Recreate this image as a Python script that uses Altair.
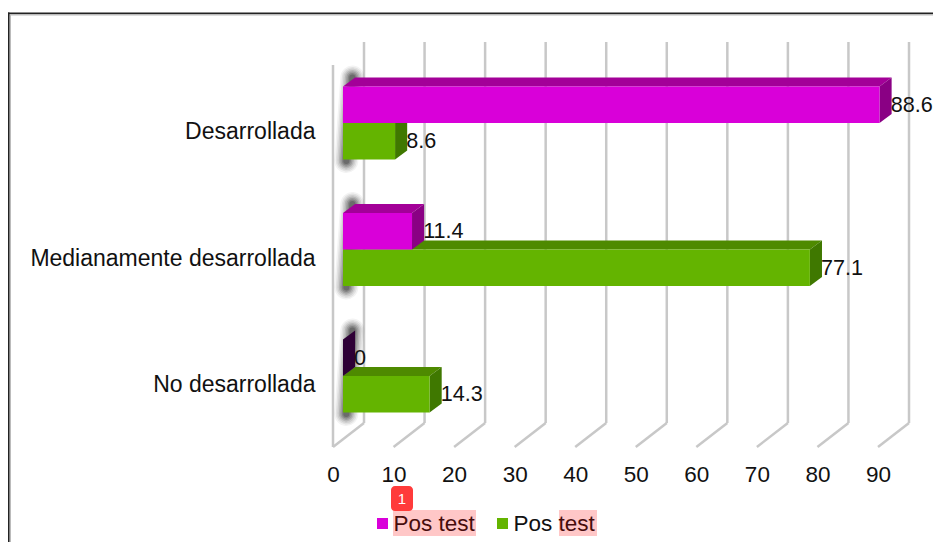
import json
import altair as alt
import pandas as pd

categories = ["Desarrollada", "Medianamente desarrollada", "No desarrollada"]
series_a = [88.6, 11.4, 0]
series_b = [8.6, 77.1, 14.3]
legend_labels = ["Pos test", "Pos test"]
ticks = [0, 10, 20, 30, 40, 50, 60, 70, 80, 90]

FONT = "Liberation Sans"
FS = 22.5
W, H = 925, 534
X_SCALE = alt.Scale(domain=[0, 90], range=[325, 870], nice=False, zero=False)
Y_SCALE = alt.Scale(domain=[0, 2], range=[115, 368], nice=False, zero=False)

INSET = 1.65      # bars start part-way into the depth of the floor
DEPTH_X = 2.0     # bar depth, value units
DEPTH_Y = 0.0711  # bar depth, row units
BAR_H = 0.2885    # bar height, row units
WALL_X = 5.12     # wall depth, value units
TOP_BACK, BOT_BACK, TOP_FRONT, BOT_FRONT = -0.640, 2.372, -0.4585, 2.561

COL_A = dict(front="#d900d9", top="#a30098", side="#8a0084", zero="#2e0036")
COL_B = dict(front="#64b400", top="#4e8a00", side="#3f7800", zero="#3f7800")

x_axis = alt.Axis(values=ticks, grid=False, domain=False, ticks=False, labelFont=FONT,
                  labelFontSize=FS, labelColor="#111", labelPadding=0, labelBaseline="middle",
                  offset=-(H - 466.5), format="d", labelFlush=False, labelOverlap=False)
names = json.dumps(categories)
y_axis = alt.Axis(values=[0, 1, 2], grid=False, domain=False, ticks=False, labelFont=FONT,
                  labelFontSize=23, labelColor="#111", labelPadding=0, labelOffset=8.5,
                  labelLimit=400, offset=-307, labelExpr=f"{names}[datum.value]",
                  labelOverlap=False)


def X(f):
    return alt.X(f, type="quantitative", scale=X_SCALE, axis=x_axis, title=None)


def Y(f):
    return alt.Y(f, type="quantitative", scale=Y_SCALE, axis=y_axis, title=None, stack=False)


# Walls and floor lines
grid_rows = []
for t in ticks:
    grid_rows.append(dict(x=t + WALL_X, x2=t + WALL_X, y=TOP_BACK, y2=BOT_BACK))
    grid_rows.append(dict(x=t, x2=t + WALL_X, y=BOT_FRONT, y2=BOT_BACK))
grid_rows.append(dict(x=0, x2=0, y=TOP_FRONT, y2=BOT_FRONT))
grid = alt.Chart(pd.DataFrame(grid_rows)).mark_rule(color="#c8c8c8", strokeWidth=2.5).encode(
    x=X("x"), x2="x2", y=Y("y"), y2="y2")

# Soft shadow behind each group
shadow_rows = [dict(x=3.2, x2=2.2, y=i - 0.36, y2=i + 0.30) for i in range(3)]
shadow_layers = []
for w, op in [(24, 0.05), (21, 0.07), (18, 0.09), (15, 0.12), (12, 0.15), (9, 0.18), (6, 0.22)]:
    shadow_layers.append(
        alt.Chart(pd.DataFrame(shadow_rows)).mark_rule(color="#111", strokeWidth=w, opacity=op,
                                                       strokeCap="round").encode(
            x=X("x"), x2="x2", y=Y("y"), y2="y2"))


def bar_layers(values, cols, upper):
    fronts, tops, sides = [], [], []
    for i, v in enumerate(values):
        t = i - BAR_H if upper else i
        b = i if upper else i + BAR_H
        x0, x1 = INSET, INSET + v
        if v > 0:
            fronts.append(dict(x=x0, x2=x1, y=t, y2=b))
            for px, py, py2 in [(x0, t, t), (x0 + DEPTH_X, t - DEPTH_Y, t),
                                (x1, t - DEPTH_Y, t), (x1 + DEPTH_X, t - DEPTH_Y, t - DEPTH_Y)]:
                tops.append(dict(poly=i, x=px, y=py, y2=py2))
        sides.append(dict(poly=i, x=x1, y=t, y2=b))
        sides.append(dict(poly=i, x=x1 + DEPTH_X, y=t - DEPTH_Y, y2=b - DEPTH_Y))
    out = []
    out.append(alt.Chart(pd.DataFrame(tops)).mark_area(color=cols["top"], orient="vertical").encode(
        x=X("x"), y=Y("y"), y2="y2", detail="poly:N"))
    zero = [r for r in sides if values[r["poly"]] == 0]
    rest = [r for r in sides if values[r["poly"]] != 0]
    out.append(alt.Chart(pd.DataFrame(rest)).mark_area(color=cols["side"], orient="vertical").encode(
        x=X("x"), y=Y("y"), y2="y2", detail="poly:N"))
    if zero:
        out.append(alt.Chart(pd.DataFrame(zero)).mark_area(color=cols["zero"], orient="vertical").encode(
            x=X("x"), y=Y("y"), y2="y2", detail="poly:N"))
    out.append(alt.Chart(pd.DataFrame(fronts)).mark_rect(color=cols["front"]).encode(
        x=X("x"), x2="x2", y=Y("y"), y2="y2"))
    return out


# Value labels
label_rows = []
for i, (a, b) in enumerate(zip(series_a, series_b)):
    label_rows.append(dict(x=INSET + a + DEPTH_X, y=i - BAR_H / 2, t=str(a)))
    label_rows.append(dict(x=INSET + b + DEPTH_X, y=i + BAR_H / 2, t=str(b)))
labels = alt.Chart(pd.DataFrame(label_rows)).mark_text(
    font=FONT, fontSize=21.6, color="#111", align="left", baseline="middle", dx=-1, dy=1
).encode(x=X("x"), y=Y("y"), text="t:N")

one = pd.DataFrame({"a": [0]})


def swatch(x, x2, y, y2, color, **kw):
    return alt.Chart(one).mark_rect(color=color, **kw).encode(
        x=alt.value(x), x2=alt.value(x2), y=alt.value(y), y2=alt.value(y2))


def note(x, y, text, color="#111", size=FS, align="left"):
    return alt.Chart(pd.DataFrame({"t": [text]})).mark_text(
        font=FONT, fontSize=size, color=color, align=align, baseline="middle"
    ).encode(x=alt.value(x), y=alt.value(y), text="t:N")


legend = [
    swatch(369, 380, 510, 521, COL_A["front"]),
    swatch(489, 500, 510, 521, COL_B["front"]),
    note(385.5, 516, legend_labels[0]),
    note(505.5, 516, legend_labels[1]),
    swatch(385, 468, 502, 528, "#ff0000", opacity=0.22),
    swatch(551, 589, 502, 528, "#ff0000", opacity=0.22),
    swatch(383, 405, 478, 503, "#ff3b3b", cornerRadius=4),
    note(394, 491, "1", color="#ffffff", size=15, align="center"),
]

frame = [
    swatch(0, W, 6, 7.5, "#bbbbbb"),
    swatch(1.5, 3, 6, H, "#bbbbbb"),
    swatch(0, W, 4.5, 6, "#222222"),
    swatch(0, 1.5, 4.5, H, "#222222"),
]

chart = alt.layer(
    grid, *shadow_layers,
    *bar_layers(series_b, COL_B, False),
    *bar_layers(series_a, COL_A, True),
    labels, *legend, *frame,
).properties(width=W, height=H, padding=0, autosize=alt.AutoSizeParams(type="none"),
             background="#ffffff").configure_view(stroke=None)

chart.save("out.html", embed_options={"renderer": "svg", "actions": False})
